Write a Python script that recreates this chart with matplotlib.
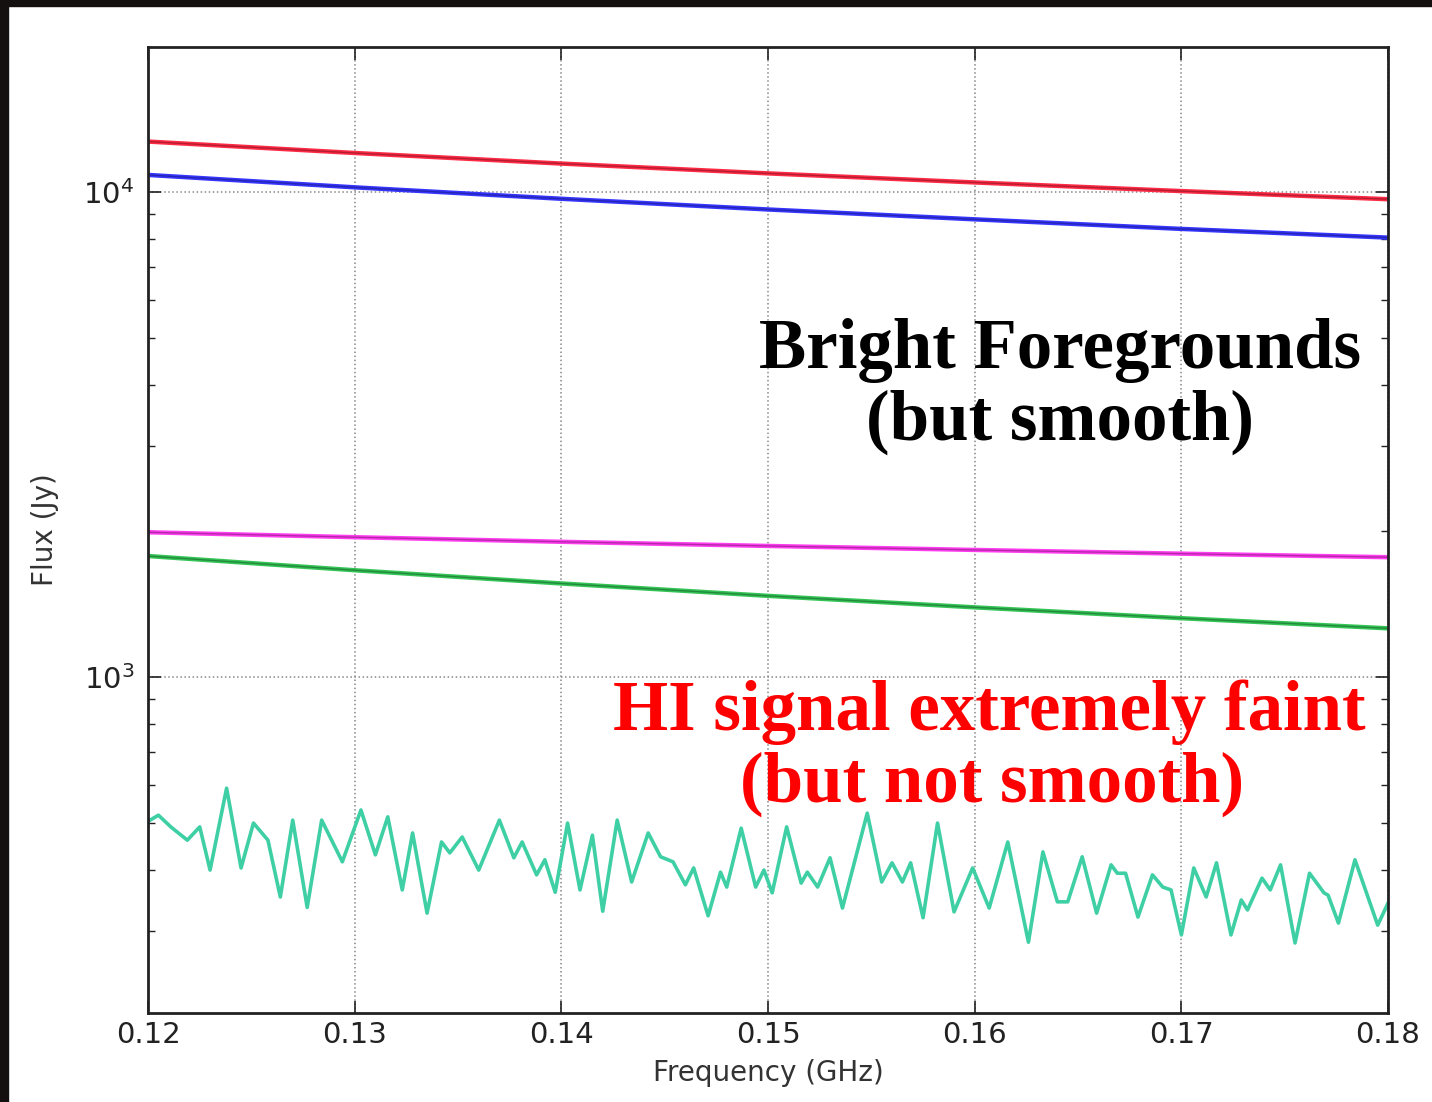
import matplotlib
matplotlib.use("Agg")
import matplotlib.pyplot as plt
from matplotlib.patches import Rectangle

# frequencies (GHz) where the smooth foreground spectra are sampled
fg_freq = [0.12, 0.13, 0.14, 0.15, 0.16, 0.17, 0.18]
tick_labels = ["0.12", "0.13", "0.14", "0.15", "0.16", "0.17", "0.18"]

# foreground spectra (Jy)
fg_red = [12700, 12030, 11440, 10920, 10460, 10040, 9660]
fg_blue = [10840, 10220, 9680, 9200, 8780, 8390, 8050]
fg_magenta = [1988, 1942, 1900, 1863, 1828, 1796, 1766]
fg_green = [1776, 1660, 1559, 1470, 1392, 1322, 1260]

# HI signal (wiggly) spectrum
hi_freq = [
    0.1201, 0.1205, 0.1211, 0.1219, 0.1225, 0.1230, 0.1238, 0.1245, 0.1251,
    0.1258, 0.1264, 0.1270, 0.1277, 0.1284, 0.1294, 0.1303, 0.1310, 0.1316,
    0.1323, 0.1328, 0.1335, 0.1342, 0.1346, 0.1352, 0.1360, 0.1370, 0.1377,
    0.1381, 0.1388, 0.1392, 0.1397, 0.1403, 0.1409, 0.1415, 0.1420, 0.1427,
    0.1434, 0.1442, 0.1448, 0.1454, 0.1460, 0.1464, 0.1471, 0.1477, 0.1480,
    0.1487, 0.1494, 0.1498, 0.1502, 0.1509, 0.1516, 0.1519, 0.1524, 0.1530,
    0.1536, 0.1548, 0.1555, 0.1560, 0.1565, 0.1569, 0.1575, 0.1582, 0.1590,
    0.1599, 0.1607, 0.1616, 0.1626, 0.1633, 0.1640, 0.1645, 0.1652, 0.1659,
    0.1666, 0.1669, 0.1673, 0.1679, 0.1686, 0.1691, 0.1695, 0.1700, 0.1706,
    0.1712, 0.1717, 0.1724, 0.1729, 0.1732, 0.1739, 0.1743, 0.1748, 0.1755,
    0.1762, 0.1769, 0.1771, 0.1776, 0.1784, 0.1795, 0.1800,
]
hi_flux = [
    507, 519, 491, 461, 491, 400, 590, 404, 500, 461, 352, 507, 335, 507,
    416, 532, 430, 515, 364, 477, 326, 457, 434, 468, 400, 507, 424, 457,
    391, 420, 360, 500, 364, 472, 329, 507, 378, 477, 426, 416, 373, 404,
    322, 396, 369, 488, 369, 400, 359, 491, 376, 396, 369, 424, 334, 524,
    378, 414, 378, 414, 319, 500, 328, 404, 334, 457, 284, 436, 344, 344,
    426, 326, 410, 394, 394, 320, 391, 369, 364, 294, 404, 352, 414, 294,
    347, 331, 385, 364, 410, 283, 394, 359, 355, 311, 420, 308, 342,
]

fig = plt.figure(figsize=(14.32, 11.02), dpi=100, facecolor="white")
ax = fig.add_axes([0.1034, 0.0808, 0.8659, 0.8766])

for vals, col in [(fg_red, "#ff2a45"), (fg_blue, "#3535ff"),
                  (fg_magenta, "#ff3cf0"), (fg_green, "#33c455")]:
    ax.plot(fg_freq, vals, color=col, lw=3.2, solid_capstyle="butt")
    ax.plot(fg_freq, vals, color="black", lw=1.0, alpha=0.3)

ax.plot(hi_freq, hi_flux, color="#3fcfa5", lw=2.6,
        solid_joinstyle="round")

ax.set_yscale("log")
ax.set_xlim(0.12, 0.18)
ax.set_ylim(203, 19900)
ax.set_xticks(fg_freq)
ax.set_xticklabels(tick_labels)

ax.grid(True, which="major", linestyle=":", color="#888888", lw=1.1)
ax.tick_params(which="both", direction="in", top=True, right=True,
               colors="#222222", labelsize=21)
ax.tick_params(axis="x", pad=6)
ax.tick_params(axis="y", pad=10)
ax.tick_params(which="major", length=9, width=1.2)
ax.tick_params(which="minor", length=5, width=1.0)
for sp in ax.spines.values():
    sp.set_linewidth(2.0)
    sp.set_color("#222222")

ax.set_xlabel("Frequency (GHz)", fontsize=20, color="#333333", labelpad=7)
ax.set_ylabel("Flux (Jy)", fontsize=20, color="#333333", labelpad=17)

# annotations
txt = dict(fontsize=51, fontweight="bold", family="Liberation Serif",
           ha="center", va="center")
fig.text(0.740, 0.682, "Bright Foregrounds", color="black", **txt)
fig.text(0.740, 0.617, "(but smooth)", color="black", **txt)
fig.text(0.691, 0.354, "HI signal extremely faint", color="#ff0000", **txt)
fig.text(0.693, 0.288, "(but not smooth)", color="#ff0000", **txt)

# dark slide edges
fig.patches.append(Rectangle((0, 0.9946), 1, 0.0054, transform=fig.transFigure,
                             color="#141010", zorder=10))
fig.patches.append(Rectangle((0, 0), 0.0056, 1, transform=fig.transFigure,
                             color="#141010", zorder=10))

fig.savefig("out.png", dpi=100, facecolor="white")
